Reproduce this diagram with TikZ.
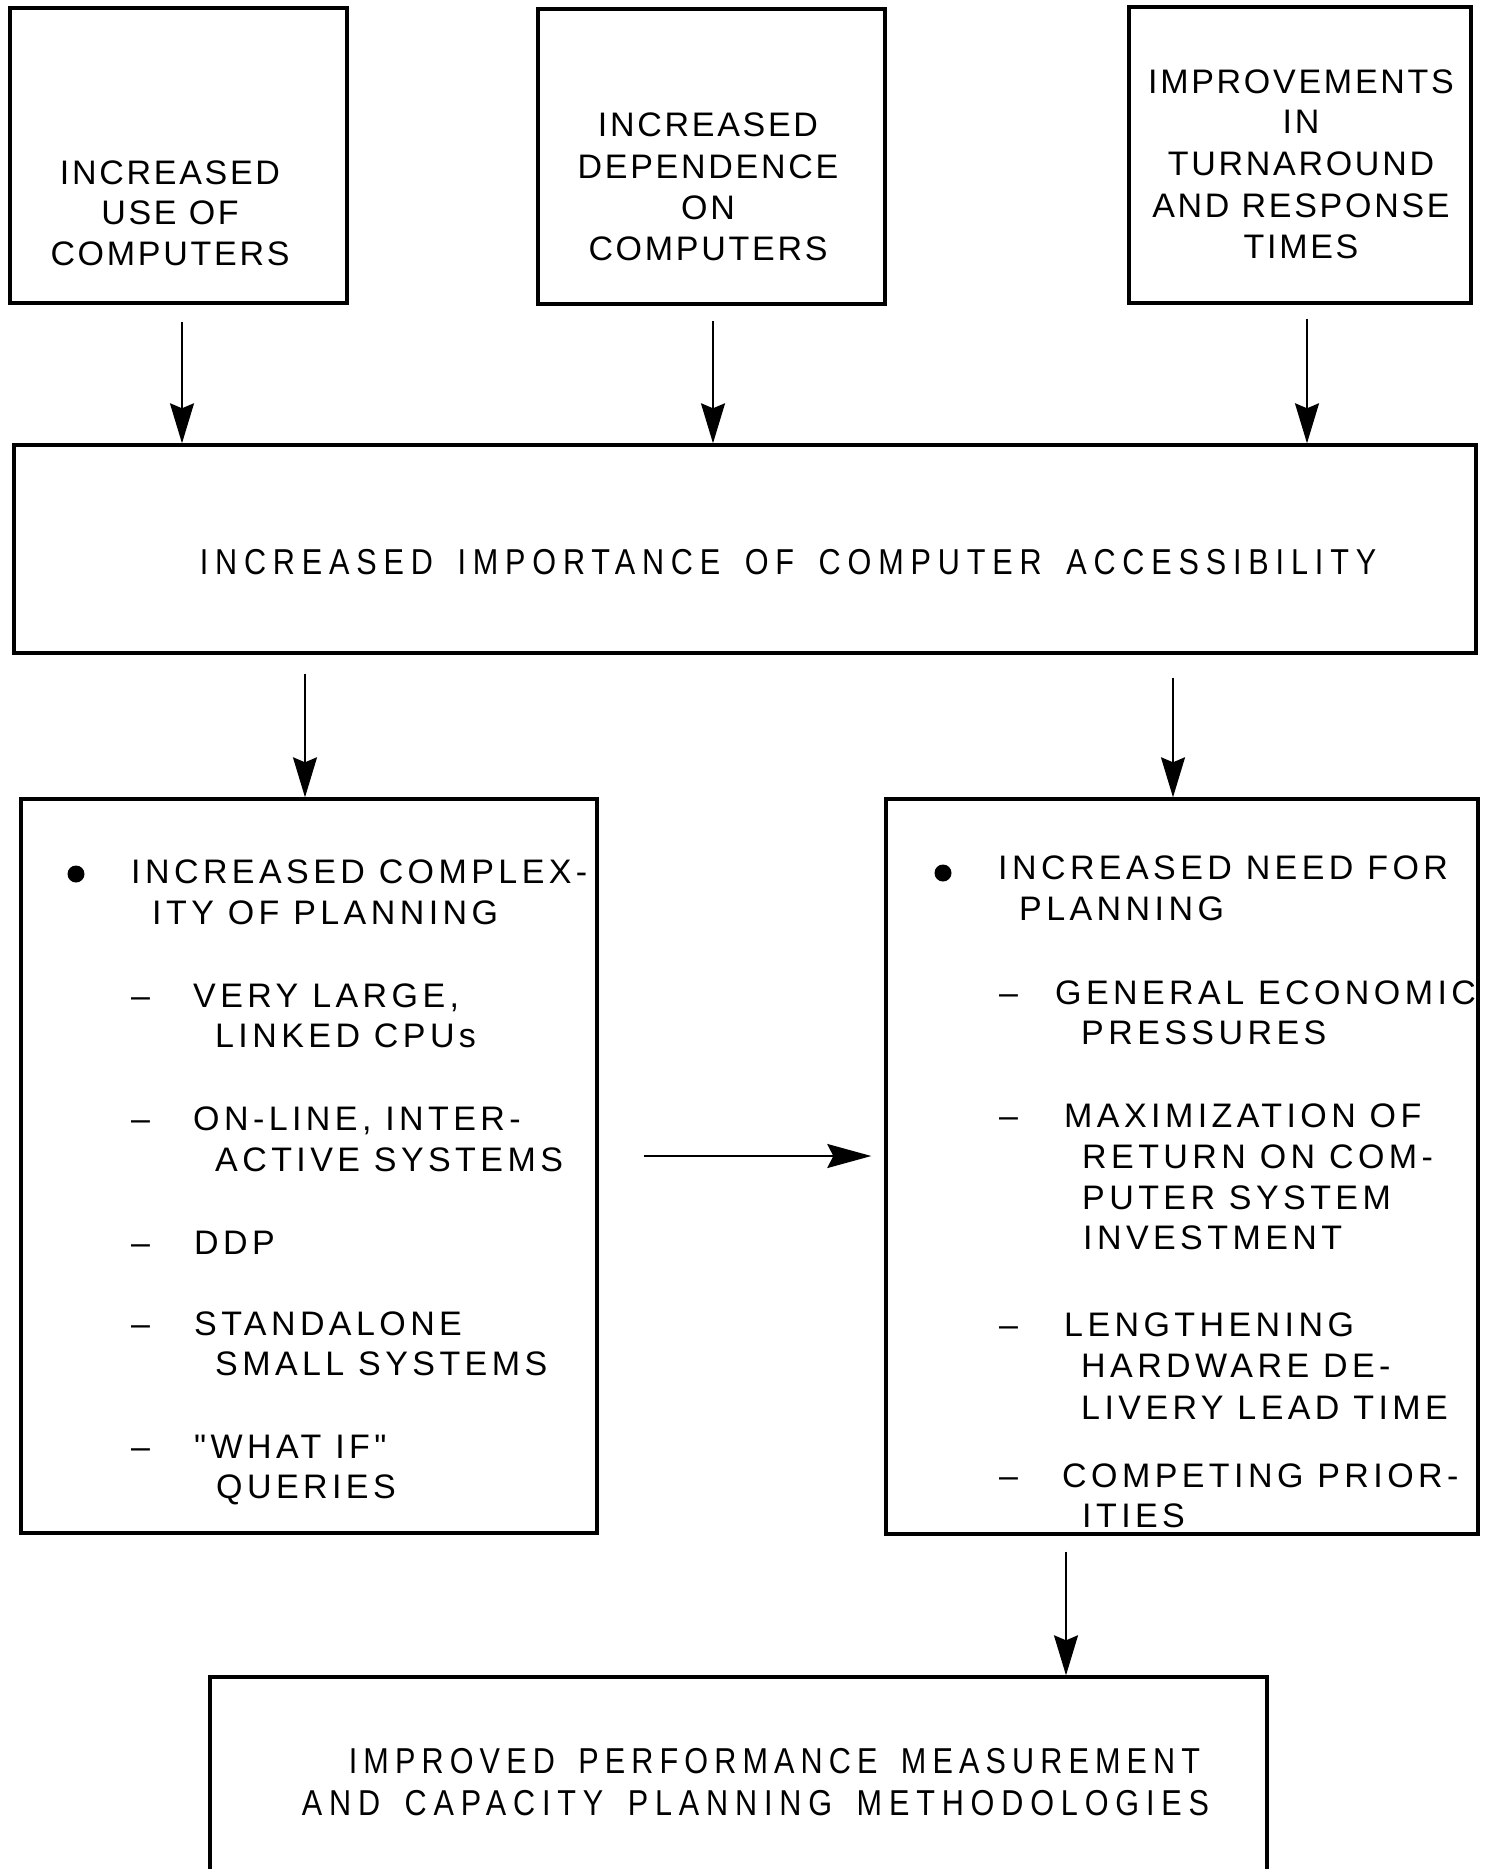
\documentclass[tikz,border=0pt]{standalone}
\usepackage{fontspec}
\usetikzlibrary{arrows.meta}
% letter-spaced sans faces in the style of a typewritten chart
\newfontfamily\boxfont{Liberation Sans}[LetterSpace=8, Ligatures=TeXOff]
\newfontfamily\listfont{Liberation Sans}[LetterSpace=13, Ligatures=TeXOff]
\newfontfamily\condfont{Liberation Sans}[FakeStretch=0.85, LetterSpace=19, WordSpace=1.6, Ligatures=TeXOff]
\newfontfamily\condfonttight{Liberation Sans}[FakeStretch=0.85, LetterSpace=17, WordSpace=1.6, Ligatures=TeXOff]

\begin{document}
\begin{tikzpicture}[x=1pt, y=-1pt,
  box/.style={draw, line width=3.4pt, rectangle, inner sep=0pt},
  boxtxt/.style={inner sep=0pt, anchor=base, font=\boxfont\fontsize{34}{40}\selectfont},
  listtxt/.style={inner sep=0pt, anchor=base west, font=\listfont\fontsize{34}{40}\selectfont},
  condtxt/.style={inner sep=0pt, anchor=base, font=\condfont\fontsize{36}{42}\selectfont},
  bullet/.style={circle, fill, inner sep=0pt, minimum size=17pt},
  varr/.style={line width=2pt, -{Stealth[length=40pt, width=24pt, inset=5pt]}},
  harr/.style={line width=2pt, -{Stealth[length=44pt, width=24pt, inset=6pt]}}
]
\clip (0,0) rectangle (1484,1869);
\fill[white] (0,0) rectangle (1484,1869);

% ---------- top row of causes ----------
\node[box, minimum width=337pt, minimum height=295pt] (b1) at (178.5,155.5) {};
\node[box, minimum width=347pt, minimum height=295pt] (b2) at (711.5,156.5) {};
\node[box, minimum width=342pt, minimum height=296pt] (b3) at (1300,155) {};

\foreach \t/\yy [count=\i] in {INCREASED/184, USE OF/224, COMPUTERS/265}
  \node[boxtxt] (b1t\i) at (170,\yy) {\t};
\foreach \t/\yy [count=\i] in {INCREASED/136, DEPENDENCE/178, ON/219, COMPUTERS/260}
  \node[boxtxt] (b2t\i) at (708,\yy) {\t};
\foreach \t/\yy [count=\i] in {IMPROVEMENTS/93, IN/133, TURNAROUND/175, AND RESPONSE/217, TIMES/258}
  \node[boxtxt] (b3t\i) at (1301,\yy) {\t};

% ---------- central effect ----------
\node[box, minimum width=1462pt, minimum height=208pt] (main) at (745,549) {};
\node[condtxt] (maint) at (788,574) {INCREASED IMPORTANCE OF COMPUTER ACCESSIBILITY};

% ---------- two planning boxes ----------
\node[box, minimum width=576pt, minimum height=734pt] (L) at (309,1166) {};
\node[box, minimum width=592pt, minimum height=735pt] (R) at (1182,1166.5) {};

\node[bullet] (lb) at (76,874) {};
\foreach \t/\xx/\yy [count=\i] in {
    {INCREASED COMPLEX-}/131/883, {ITY OF PLANNING}/152/924,
    {VERY LARGE,}/193/1007, {LINKED CPUs}/215/1047,
    {ON-LINE, INTER-}/193/1130, {ACTIVE SYSTEMS}/215/1171,
    {DDP}/194/1254,
    {STANDALONE}/194/1335, {SMALL SYSTEMS}/215/1375,
    {"WHAT IF"}/194/1458, {QUERIES}/216/1498}
  \node[listtxt] (lt\i) at (\xx,\yy) {\t};
\foreach \yy [count=\i] in {1007,1130,1254,1335,1458}
  \node[listtxt] (ld\i) at (131,\yy) {–};

\node[bullet] (rb) at (943,873) {};
\foreach \t/\xx/\yy [count=\i] in {
    {INCREASED NEED FOR}/998/879, {PLANNING}/1019/920,
    {GENERAL ECONOMIC}/1055/1004, {PRESSURES}/1081/1044,
    {MAXIMIZATION OF}/1064/1127, {RETURN ON COM-}/1082/1168,
    {PUTER SYSTEM}/1082/1209, {INVESTMENT}/1083/1249,
    {LENGTHENING}/1064/1336, {HARDWARE DE-}/1081/1377,
    {LIVERY LEAD TIME}/1081/1419,
    {COMPETING PRIOR-}/1062/1487, {ITIES}/1082/1527}
  \node[listtxt] (rt\i) at (\xx,\yy) {\t};
\foreach \yy [count=\i] in {1004,1127,1336,1487}
  \node[listtxt] (rd\i) at (999,\yy) {–};

% ---------- final outcome ----------
\node[box, minimum width=1057pt, minimum height=223pt] (bot) at (738.5,1788.5) {};
\node[condtxt, font=\condfonttight\fontsize{36}{42}\selectfont] (bott1) at (774.5,1773) {IMPROVED PERFORMANCE MEASUREMENT};
\node[condtxt] (bott2) at (755.5,1815) {AND CAPACITY PLANNING METHODOLOGIES};

% ---------- connectors ----------
\coordinate (a1) at ([shift={(3.5,17)}]b1.south);
\coordinate (a2) at ([shift={(1.5,15)}]b2.south);
\coordinate (a3) at ([shift={(7,14)}]b3.south);
\draw[varr] (a1) -- (a1 |- main.north);
\draw[varr] (a2) -- (a2 |- main.north);
\draw[varr] (a3) -- (a3 |- main.north);

\coordinate (a4) at ([shift={(-440,19)}]main.south);
\coordinate (a5) at ([shift={(428,23)}]main.south);
\draw[varr] (a4) -- (a4 |- L.north);
\draw[varr] (a5) -- (a5 |- R.north);

\coordinate (h1) at ([shift={(45,-10)}]L.east);
\coordinate (h2) at ([shift={(-13,-10.5)}]R.west);
\draw[harr] (h1) -- (h2);

\coordinate (a7) at ([shift={(-116,16)}]R.south);
\draw[varr] (a7) -- (a7 |- bot.north);
\end{tikzpicture}
\end{document}
